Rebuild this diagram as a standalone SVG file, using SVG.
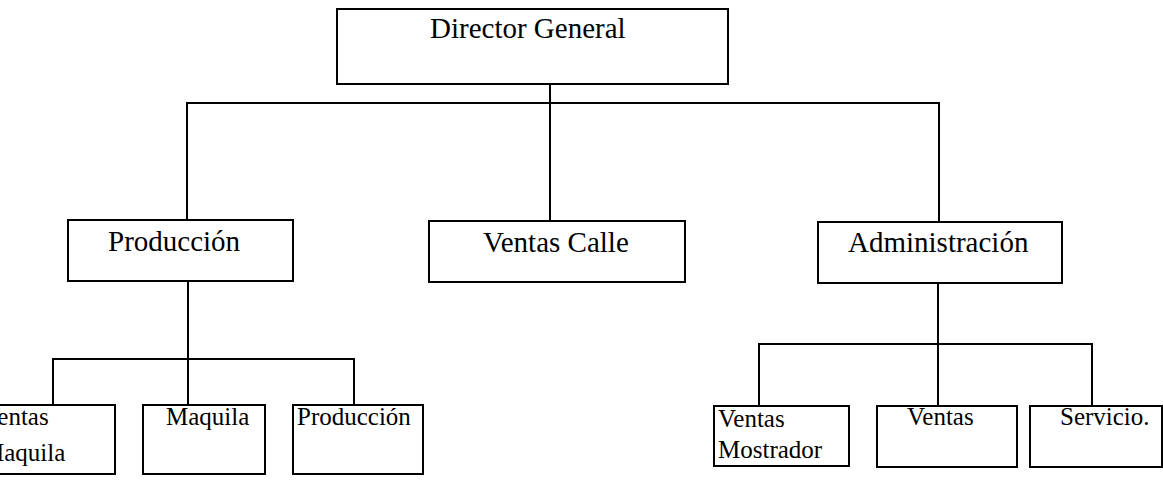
<svg xmlns="http://www.w3.org/2000/svg" width="1163" height="482" viewBox="0 0 1163 482">
  <style>
    .box { fill: #ffffff; stroke: #000000; stroke-width: 2; }
    .wire { fill: none; stroke: #000000; stroke-width: 2; stroke-linecap: square; }
    .t1 { font-family: "Liberation Serif", "Times New Roman", serif; font-size: 29px; fill: #000000; }
    .t2 { font-family: "Liberation Serif", "Times New Roman", serif; font-size: 25px; fill: #000000; }
  </style>
  <rect x="0" y="0" width="1163" height="482" fill="#ffffff"/>

  <!-- connectors -->
  <g id="connectors">
    <!-- director to the three departments -->
    <path class="wire" d="M550 84 V221"/>
    <path class="wire" d="M187 103 H939"/>
    <path class="wire" d="M187 103 V220"/>
    <path class="wire" d="M939 103 V222"/>
    <!-- producción branch -->
    <path class="wire" d="M188 281 V405"/>
    <path class="wire" d="M53 359 H354"/>
    <path class="wire" d="M53 359 V405"/>
    <path class="wire" d="M354 359 V405"/>
    <!-- administración branch -->
    <path class="wire" d="M938 283 V406"/>
    <path class="wire" d="M759 344 H1092"/>
    <path class="wire" d="M759 344 V406"/>
    <path class="wire" d="M1092 344 V406"/>
  </g>

  <g id="director-general">
    <rect class="box" x="337" y="9" width="391" height="75"/>
    <text class="t1" x="430" y="38">Director General</text>
  </g>

  <g id="produccion">
    <rect class="box" x="68" y="220" width="225" height="61"/>
    <text class="t1" x="108" y="251">Producción</text>
  </g>

  <g id="ventas-calle">
    <rect class="box" x="429" y="221" width="256" height="61"/>
    <text class="t1" x="483" y="252">Ventas Calle</text>
  </g>

  <g id="administracion">
    <rect class="box" x="818" y="222" width="244" height="61"/>
    <text class="t1" x="848" y="252">Administración</text>
  </g>

  <g id="ventas-maquila">
    <rect class="box" x="-22" y="405" width="137" height="69"/>
    <text class="t2" x="-18" y="425">Ventas</text>
    <text class="t2" x="-18" y="461">Maquila</text>
  </g>

  <g id="maquila">
    <rect class="box" x="143" y="405" width="122" height="69"/>
    <text class="t2" x="166" y="425">Maquila</text>
  </g>

  <g id="produccion-planta">
    <rect class="box" x="293" y="405" width="130" height="69"/>
    <text class="t2" x="297" y="425">Producción</text>
  </g>

  <g id="ventas-mostrador">
    <rect class="box" x="714" y="406" width="135" height="60"/>
    <text class="t2" x="718" y="427">Ventas</text>
    <text class="t2" x="718" y="458">Mostrador</text>
  </g>

  <g id="ventas">
    <rect class="box" x="877" y="406" width="140" height="61"/>
    <text class="t2" x="907" y="425">Ventas</text>
  </g>

  <g id="servicio">
    <rect class="box" x="1030" y="406" width="132" height="61"/>
    <text class="t2" x="1060" y="425">Servicio.</text>
  </g>
</svg>
